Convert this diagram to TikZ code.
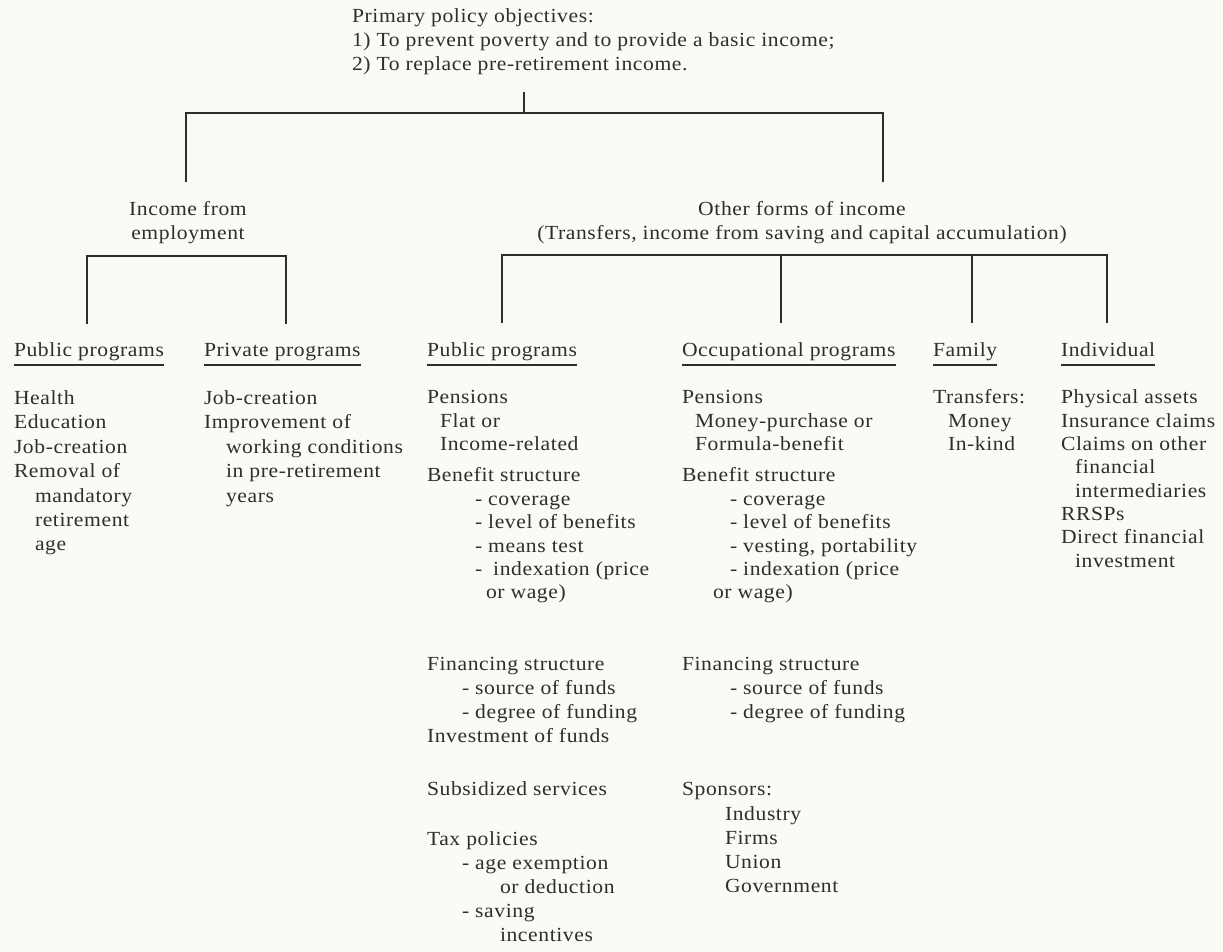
\documentclass[tikz,border=0pt]{standalone}
\usepackage{fontspec}
\setmainfont{Liberation Serif}[FakeStretch=1.08,LetterSpace=3]
\definecolor{ink}{HTML}{2E2E2A}
\definecolor{paper}{HTML}{FBFBF5}
\newcommand\putline[4]{\node[txt] (#1) at (#2,#3) {#4};}
\newcommand\puthead[4]{\node[txt] (#1) at (#2,#3) {#4};
  \draw[uline] ([yshift=-9pt]#1.base west) -- ([yshift=-9pt]#1.base east);}
\begin{document}
\begin{tikzpicture}[x=1pt,y=-1pt,
  txt/.style={anchor=base west,inner sep=0pt,outer sep=0pt,text=ink,font=\fontsize{20}{24}\selectfont},
  ctr/.style={anchor=base,inner sep=0pt,outer sep=0pt,text=ink,font=\fontsize{20}{24}\selectfont},
  wire/.style={draw=ink,line width=1.5pt,line join=miter},
  uline/.style={draw=ink,line width=1.5pt}]
\fill[paper] (0,0) rectangle (1223,952);
\useasboundingbox (0,0) rectangle (1223,952);

% top text
\putline{t1}{352}{23}{Primary policy objectives:}
\putline{t2}{352}{47}{1) To prevent poverty and to provide a basic income;}
\putline{t3}{352}{71}{2) To replace pre-retirement income.}

% second level
\node[ctr] (e1) at (188,215) {Income from};
\node[ctr] (e2) at (188,240) {employment};
\node[ctr] (o1) at (802,215) {Other forms of income};
\node[ctr] (o2) at (802,240) {(Transfers, income from saving and capital accumulation)};

% connectors
\coordinate (s0) at (524,92);
\coordinate (s1) at (524,113);
\coordinate (bL) at (186,113);
\coordinate (bR) at (883,113);
\coordinate (bLd) at (186,182);
\coordinate (bRd) at (883,182);
\draw[wire] (s0) -- (s1);
\draw[wire] (bLd) -- (bL) -- (bR) -- (bRd);

\coordinate (l1) at (87,256);
\coordinate (l2) at (286,256);
\coordinate (l1d) at (87,324);
\coordinate (l2d) at (286,324);
\draw[wire] (l1d) -- (l1) -- (l2) -- (l2d);

\coordinate (r1) at (502,255);
\coordinate (r2) at (781,255);
\coordinate (r3) at (972,255);
\coordinate (r4) at (1107,255);
\coordinate (r1d) at (502,323);
\coordinate (r2d) at (781,323);
\coordinate (r3d) at (972,323);
\coordinate (r4d) at (1107,323);
\draw[wire] (r1d) -- (r1) -- (r4) -- (r4d);
\draw[wire] (r2) -- (r2d);
\draw[wire] (r3) -- (r3d);

% headers
\puthead{h1}{14}{356}{Public programs}
\puthead{h2}{204}{356}{Private programs}
\puthead{h3}{427}{356}{Public programs}
\puthead{h4}{682}{356}{Occupational programs}
\puthead{h5}{933}{356}{Family}
\puthead{h6}{1061}{356}{Individual}

% public programs (employment)
\putline{a1}{14}{404}{Health}
\putline{a2}{14}{428}{Education}
\putline{a3}{14}{453}{Job-creation}
\putline{a4}{14}{477}{Removal of}
\putline{a5}{35}{502}{mandatory}
\putline{a6}{35}{526}{retirement}
\putline{a7}{35}{550}{age}

% private programs
\putline{b1}{204}{404}{Job-creation}
\putline{b2}{204}{428}{Improvement of}
\putline{b3}{226}{453}{working conditions}
\putline{b4}{226}{477}{in pre-retirement}
\putline{b5}{226}{502}{years}

% public programs (other)
\putline{c1}{427}{403}{Pensions}
\putline{c2}{440}{427}{Flat or}
\putline{c3}{440}{450}{Income-related}
\putline{c4}{427}{481}{Benefit structure}
\putline{c5}{475}{505}{- coverage}
\putline{c6}{475}{528}{- level of benefits}
\putline{c7}{475}{552}{- means test}
\putline{c8}{475}{575}{-\hspace{5pt} indexation (price}
\putline{c9}{486}{598}{or wage)}
\putline{c10}{427}{670}{Financing structure}
\putline{c11}{462}{694}{- source of funds}
\putline{c12}{462}{718}{- degree of funding}
\putline{c13}{427}{742}{Investment of funds}
\putline{c14}{427}{795}{Subsidized services}
\putline{c15}{427}{845}{Tax policies}
\putline{c16}{462}{869}{- age exemption}
\putline{c17}{500}{893}{or deduction}
\putline{c18}{462}{917}{- saving}
\putline{c19}{500}{941}{incentives}

% occupational programs
\putline{d1}{682}{403}{Pensions}
\putline{d2}{695}{427}{Money-purchase or}
\putline{d3}{695}{450}{Formula-benefit}
\putline{d4}{682}{481}{Benefit structure}
\putline{d5}{730}{505}{- coverage}
\putline{d6}{730}{528}{- level of benefits}
\putline{d7}{730}{552}{- vesting, portability}
\putline{d8}{730}{575}{- indexation (price}
\putline{d9}{713}{598}{or wage)}
\putline{d10}{682}{670}{Financing structure}
\putline{d11}{730}{694}{- source of funds}
\putline{d12}{730}{718}{- degree of funding}
\putline{d13}{682}{795}{Sponsors:}
\putline{d14}{725}{820}{Industry}
\putline{d15}{725}{844}{Firms}
\putline{d16}{725}{868}{Union}
\putline{d17}{725}{892}{Government}

% family
\putline{f1}{933}{403}{Transfers:}
\putline{f2}{948}{427}{Money}
\putline{f3}{948}{450}{In-kind}

% individual
\putline{g1}{1061}{403}{Physical assets}
\putline{g2}{1061}{427}{Insurance claims}
\putline{g3}{1061}{450}{Claims on other}
\putline{g4}{1075}{473}{financial}
\putline{g5}{1075}{497}{intermediaries}
\putline{g6}{1061}{520}{RRSPs}
\putline{g7}{1061}{543}{Direct financial}
\putline{g8}{1075}{567}{investment}
\end{tikzpicture}
\end{document}
